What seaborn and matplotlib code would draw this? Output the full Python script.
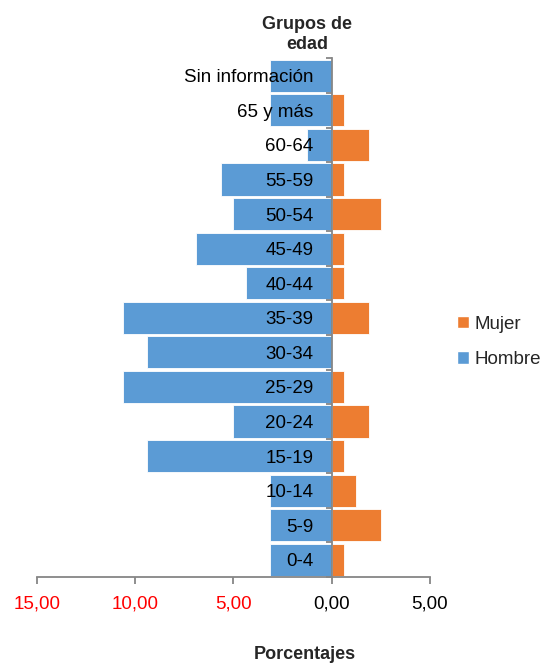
import matplotlib
matplotlib.use("Agg")
import matplotlib.pyplot as plt
import seaborn as sns
import pandas as pd
import numpy as np
from matplotlib.patches import Patch

groups = ["Sin información", "65 y más", "60-64", "55-59", "50-54", "45-49", "40-44",
          "35-39", "30-34", "25-29", "20-24", "15-19", "10-14", "5-9", "0-4"]
hombre = [3.125, 3.125, 1.25, 5.625, 5.0, 6.875, 4.375,
          10.625, 9.375, 10.625, 5.0, 9.375, 3.125, 3.125, 3.125]
mujer = [0.0, 0.625, 1.875, 0.625, 2.5, 0.625, 0.625,
         1.875, 0.0, 0.625, 1.875, 0.625, 1.25, 2.5, 0.625]
xticks = [-15, -10, -5, 0, 5]
xticklabels = ["15,00", "10,00", "5,00", "0,00", "5,00"]
xtickcolors = ["red", "red", "red", "black", "black"]

sns.set_theme(style="white")
plt.rcParams['font.family'] = ['Liberation Sans', 'DejaVu Sans']

df = pd.DataFrame({
    "Grupo": groups * 2,
    "Valor": [-v for v in hombre] + mujer,
    "Sexo": ["Hombre"] * len(groups) + ["Mujer"] * len(groups),
})

blue = "#5B9BD5"
orange = "#ED7D31"
axis_gray = "#868686"
fs = 13.5

fig = plt.figure(figsize=(5.43, 6.64), dpi=100)
ax = fig.add_axes([0.0676, 0.131, 0.7243, 0.781])

sns.barplot(data=df, y="Grupo", x="Valor", hue="Sexo", order=groups,
            hue_order=["Hombre", "Mujer"], palette={"Hombre": blue, "Mujer": orange},
            dodge=False, width=0.93, orient="h", ax=ax, legend=False,
            edgecolor="white", linewidth=0.6, saturation=1)

ax.set_xlim(-15, 5)
ax.set_ylim(len(groups) - 0.5, -0.5)
ax.set_axisbelow(False)
ax.spines['top'].set_visible(False)
ax.spines['right'].set_visible(False)
ax.spines['left'].set_position(('data', 0))
ax.spines['left'].set_color(axis_gray)
ax.spines['left'].set_linewidth(1.3)
ax.spines['left'].set_zorder(6)
ax.spines['bottom'].set_color(axis_gray)
ax.spines['bottom'].set_linewidth(1.3)
ax.spines['bottom'].set_zorder(6)

ax.set_xticks(xticks)
ax.set_xticklabels(xticklabels, fontsize=fs)
for lab, c in zip(ax.get_xticklabels(), xtickcolors):
    lab.set_color(c)
ax.tick_params(axis='x', direction='out', length=5, width=1.3, color=axis_gray, pad=8, bottom=True)

ax.set_yticks(np.arange(len(groups)), minor=False)
ax.set_yticklabels([""] * len(groups))
ax.tick_params(axis='y', which='major', length=0, left=False)
ax.set_yticks(np.arange(len(groups) + 1) - 0.5, minor=True)
ax.tick_params(axis='y', which='minor', direction='out', length=4, width=1.3, color=axis_gray, left=True)

for i, g in enumerate(groups):
    ax.annotate(g, xy=(0, i), xytext=(-13, 0), textcoords='offset points',
                ha='right', va='center_baseline', fontsize=fs, color='black', zorder=10)

ax.set_ylabel("")
ax.set_xlabel("Porcentajes", fontsize=13, fontweight='bold')
ax.xaxis.label.set_va('center')
ax.xaxis.set_label_coords(0.682, -0.149)
ax.grid(False)

fig.text(0.565, 0.948, "Grupos de\nedad", ha='center', va='center', fontsize=13,
         fontweight='bold', linespacing=1.3)

handles = [Patch(facecolor=orange, label="Mujer"), Patch(facecolor=blue, label="Hombre")]
fig.legend(handles=handles, loc='center left', bbox_to_anchor=(0.81, 0.485), frameon=False,
           fontsize=fs, handlelength=0.65, handleheight=0.65, handletextpad=0.3,
           labelspacing=1.0)

fig.savefig("out.png", dpi=100)
